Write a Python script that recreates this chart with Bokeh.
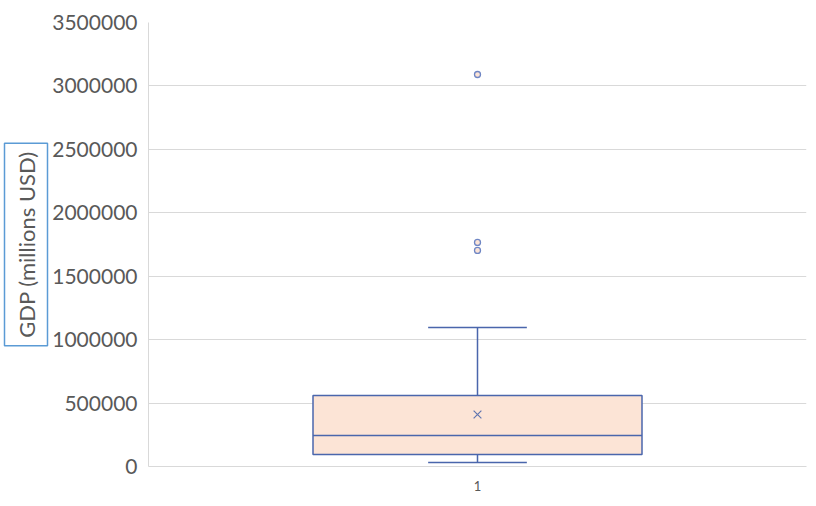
from bokeh.plotting import figure
from bokeh.models import (Range1d, FixedTicker, NumeralTickFormatter, Title)
from bokeh.embed import file_html
from bokeh.resources import INLINE

# ---- data ----
categories = ["1"]
whisker_low = [32000]
q1 = [95000]
median = [244000]
q3 = [560000]
whisker_high = [1096000]
mean = [410000]
outliers = [3090000, 1766000, 1703000]
y_ticks = [0, 500000, 1000000, 1500000, 2000000, 2500000, 3000000, 3500000]
y_title = "GDP (millions USD)"

# ---- layout constants ----
W, H = 816, 506
FL, FR, FT, FB = 148, 806, 22, 466  # frame edges in canvas px
BLUE = "#4A66AC"
PEACH = "#FCE4D6"
GRID = "#D9D9D9"
TXT = "#595959"
SEL = "#5B9BD5"
FONT = "Lato"

p = figure(width=W, height=H, output_backend="svg", toolbar_location=None,
           x_range=Range1d(0, len(categories)), y_range=Range1d(y_ticks[0], y_ticks[-1]),
           min_border_left=FL, min_border_right=W - FR, min_border_top=FT,
           min_border_bottom=H - FB)
p.outline_line_color = None
p.background_fill_color = "white"
p.border_fill_color = "white"

xs = [i + 0.5 for i in range(len(categories))]
bw, cw = 0.5, 0.15

# whiskers
p.segment(x0=xs, x1=xs, y0=q3, y1=whisker_high, line_color=BLUE, line_width=1.5)
p.segment(x0=xs, x1=xs, y0=whisker_low, y1=q1, line_color=BLUE, line_width=1.5)
p.segment(x0=[x - cw / 2 for x in xs], x1=[x + cw / 2 for x in xs], y0=whisker_high, y1=whisker_high,
          line_color=BLUE, line_width=1.5)
p.segment(x0=[x - cw / 2 for x in xs], x1=[x + cw / 2 for x in xs], y0=whisker_low, y1=whisker_low,
          line_color=BLUE, line_width=1.5)
# box
p.quad(left=[x - bw / 2 for x in xs], right=[x + bw / 2 for x in xs], bottom=q1, top=q3,
       fill_color=PEACH, line_color=BLUE, line_width=1.5)
# median
p.segment(x0=[x - bw / 2 for x in xs], x1=[x + bw / 2 for x in xs], y0=median, y1=median,
          line_color=BLUE, line_width=1.5)
# mean
p.scatter(x=xs, y=mean, marker="x", size=11, line_color="#6276B0", line_width=1.2)
# outliers
p.scatter(x=[xs[0]] * len(outliers), y=outliers, marker="circle", size=6,
          fill_color=PEACH, line_color="#6F86C4", line_width=1.3)

# axes
ya = p.yaxis[0]
ya.ticker = FixedTicker(ticks=y_ticks)
ya.formatter = NumeralTickFormatter(format="0")
ya.major_tick_line_color = None
ya.minor_tick_line_color = None
ya.axis_line_color = GRID
ya.major_label_text_font = FONT
ya.major_label_text_font_size = "21px"
ya.major_label_text_color = TXT
ya.major_label_standoff = 5

xa = p.xaxis[0]
xa.ticker = FixedTicker(ticks=xs)
xa.major_label_overrides = {x: c for x, c in zip(xs, categories)}
xa.major_tick_line_color = None
xa.minor_tick_line_color = None
xa.axis_line_color = GRID
xa.major_label_text_font = FONT
xa.major_label_text_font_size = "13px"
xa.major_label_text_color = TXT
xa.major_label_standoff = 8

p.xgrid.grid_line_color = None
p.ygrid.grid_line_color = GRID
p.ygrid.grid_line_width = 1

# y-axis title as a bordered side title (selected text-box look)
t = Title(text=y_title, align="center", text_font=FONT, text_font_size="22px",
          text_font_style="normal", text_color=TXT, border_line_color=SEL,
          border_line_width=1.5, background_fill_color="white", standoff=4, offset=2)
if "padding" in t.properties():
    t.padding = 8
p.add_layout(t, "left")

open("out.html", "w").write(file_html(p, INLINE))
